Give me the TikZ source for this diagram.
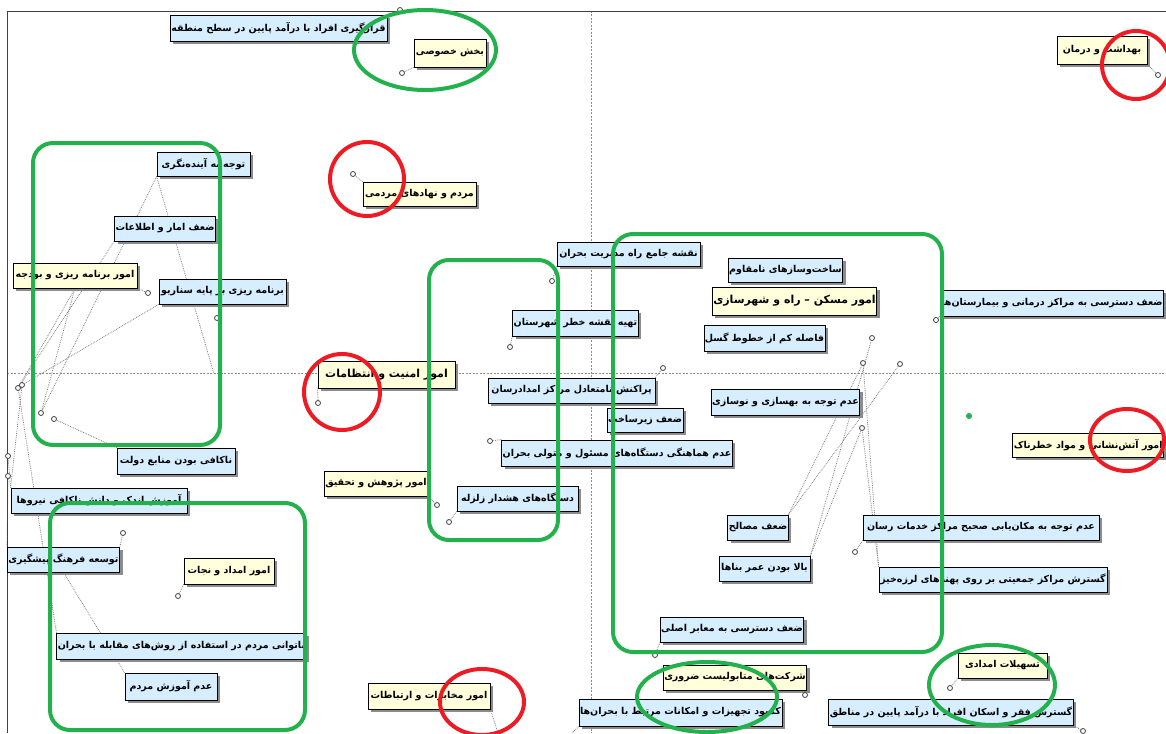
\documentclass[tikz,border=0pt]{standalone}
\usepackage{fontspec}
\newfontfamily\farsi[Script=Arabic]{DejaVu Sans}
\TeXXeTstate=1
\usetikzlibrary{shadows,backgrounds}
\newcommand{\rtltxt}[1]{\beginR#1\endR}
\definecolor{lblblue}{HTML}{D6EEFF}
\definecolor{lblyellow}{HTML}{FFFFDC}
\definecolor{hlgreen}{HTML}{22B14C}
\definecolor{hlred}{HTML}{ED1C24}
\tikzset{
  lbl/.style={draw=black, line width=0.8pt, inner sep=1pt, font=\farsi\bfseries\fontsize{9.5}{11}\selectfont,
    drop shadow={shadow xshift=3pt, shadow yshift=-3pt, fill=black!45, opacity=1}},
  boxb/.style={lbl, fill=lblblue},
  boxy/.style={lbl, fill=lblyellow},
  big/.style={font=\farsi\bfseries\fontsize{11}{12}\selectfont},
  mk/.style={circle, draw=black!75, fill=white, line width=0.8pt, inner sep=0pt, minimum size=5pt},
  link/.style={draw=black!50, densely dotted, line width=0.8pt},
  axisline/.style={draw=black!45, dashed, dash pattern=on 2pt off 1.5pt, line width=0.6pt},
  grn/.style={draw=hlgreen, line width=4pt},
  rd/.style={draw=hlred, line width=4pt}
}
\begin{document}
\begin{tikzpicture}[x=1pt, y=-1pt]
  \useasboundingbox (0,0) rectangle (1166,733);
  \draw[black!75, line width=0.9pt] (7,733) -- (7,11) -- (1166,11);

  % labels
  \node[boxb, minimum width=217, minimum height=26] (qarar) at (278.5,28) {\rtltxt{قرارگیری افراد با درآمد پایین در سطح منطقه}};
  \node[boxy, minimum width=72, minimum height=28] (bakhsh) at (450,53) {\rtltxt{بخش خصوصی}};
  \node[boxy, minimum width=90, minimum height=28] (behdasht) at (1102,50) {\rtltxt{بهداشت و درمان}};
  \node[boxb, minimum width=93, minimum height=24] (tavajoh) at (203.5,164) {\rtltxt{توجه به آینده^^^^200cنگری}};
  \node[boxb, minimum width=100, minimum height=25] (amar) at (165,228.5) {\rtltxt{ضعف امار و اطلاعات}};
  \node[boxy, minimum width=124, minimum height=25] (budje) at (75,275.5) {\rtltxt{امور برنامه ریزی و بودجه}};
  \node[boxb, minimum width=127, minimum height=25] (senario) at (222.5,291.5) {\rtltxt{برنامه ریزی بر پایه سناریو}};
  \node[boxy, minimum width=113, minimum height=24] (mardom) at (419.5,194) {\rtltxt{مردم و نهادهای مردمی}};
  \node[boxb, minimum width=143, minimum height=24] (naqshe) at (628.5,254) {\rtltxt{نقشه جامع راه مدیریت بحران}};
  \node[boxb, minimum width=115, minimum height=26] (tahiye) at (575.5,323) {\rtltxt{تهیه نقشه خطر شهرستان}};
  \node[boxb, minimum width=167, minimum height=25] (parakonesh) at (571.5,390.5) {\rtltxt{پراکنش نامتعادل مراکز امدادرسان}};
  \node[boxb, minimum width=76, minimum height=24] (zirsakht) at (645,420) {\rtltxt{ضعف زیرساخت}};
  \node[boxb, minimum width=230, minimum height=26] (hamahangi) at (617,453) {\rtltxt{عدم هماهنگی دستگاه^^^^200cهای مسئول و متولی بحران}};
  \node[boxy, big, minimum width=137, minimum height=27] (amniat) at (386.5,374.5) {\rtltxt{امور امنیت و انتظامات}};
  \node[boxy, minimum width=102, minimum height=25] (pazhuhesh) at (376,483.5) {\rtltxt{امور پژوهش و تحقیق}};
  \node[boxb, minimum width=121, minimum height=25] (hoshdar) at (517.5,498.5) {\rtltxt{دستگاه^^^^200cهای هشدار زلزله}};
  \node[boxb, minimum width=118, minimum height=26] (nakafi) at (176,461) {\rtltxt{ناکافی بودن منابع دولت}};
  \node[boxb, minimum width=176, minimum height=25] (amuzesh) at (99,500.5) {\rtltxt{آموزش اندک و دانش ناکافی نیروها}};
  \node[boxb, minimum width=111, minimum height=25] (farhang) at (63.5,559.5) {\rtltxt{توسعه فرهنگ پیشگیری}};
  \node[boxy, minimum width=90, minimum height=26] (emdad) at (229,571) {\rtltxt{امور امداد و نجات}};
  \node[boxb, minimum width=249, minimum height=26] (natavani) at (181.5,646) {\rtltxt{ناتوانی مردم در استفاده از روش^^^^200cهای مقابله با بحران}};
  \node[boxb, minimum width=92, minimum height=27] (adam) at (171,686.5) {\rtltxt{عدم آموزش مردم}};
  \node[boxb, minimum width=113, minimum height=24] (sakht) at (785.5,270) {\rtltxt{ساخت^^^^200cوسازهای نامقاوم}};
  \node[boxy, big, minimum width=153, minimum height=28] (maskan) at (794.5,301) {\rtltxt{امور مسکن – راه و شهرسازی}};
  \node[boxb, minimum width=117, minimum height=26] (gosal) at (764.5,338) {\rtltxt{فاصله کم از خطوط گسل}};
  \node[boxb, minimum width=218, minimum height=26, anchor=east] (darmani) at (1164,303) {\rtltxt{ضعف دسترسی به مراکز درمانی و بیمارستان^^^^200cها}};
  \node[boxb, minimum width=145, minimum height=26] (behsazi) at (785.5,402) {\rtltxt{عدم توجه به بهسازی و نوسازی}};
  \node[boxy, minimum width=145, minimum height=24, anchor=east] (atash) at (1164,445) {\rtltxt{امور آتش^^^^200cنشانی و مواد خطرناک}};
  \node[boxb, minimum width=60, minimum height=25] (masaleh) at (758,527.5) {\rtltxt{ضعف مصالح}};
  \node[boxb, minimum width=91, minimum height=25] (omr) at (764.5,568.5) {\rtltxt{بالا بودن عمر بناها}};
  \node[boxb, minimum width=236, minimum height=25] (makan) at (981,527.5) {\rtltxt{عدم توجه به مکان^^^^200cیابی صحیح مراکز خدمات رسان}};
  \node[boxb, minimum width=228, minimum height=25] (jamiyat) at (993,579.5) {\rtltxt{گسترش مراکز جمعیتی بر روی پهنه^^^^200cهای لرزه^^^^200cخیز}};
  \node[boxb, minimum width=140, minimum height=25] (maaber) at (732,629.5) {\rtltxt{ضعف دسترسی به معابر اصلی}};
  \node[boxy, minimum width=140, minimum height=25] (sherkat) at (735,677.5) {\rtltxt{شرکت^^^^200cهای متابولیست ضروری}};
  \node[boxb, minimum width=197, minimum height=27] (kambud) at (680.5,712.5) {\rtltxt{کمبود تجهیزات و امکانات مرتبط با بحران^^^^200cها}};
  \node[boxy, minimum width=122, minimum height=26] (mokhaberat) at (429,696) {\rtltxt{امور مخابرات و ارتباطات}};
  \node[boxy, minimum width=89, minimum height=25] (tashilat) at (1002.5,665.5) {\rtltxt{تسهیلات امدادی}};
  \node[boxb, minimum width=244, minimum height=26] (faqr) at (951,712) {\rtltxt{گسترش فقر و اسکان افراد با درآمد پایین در مناطق}};

  % markers
  \node[mk] (m1) at (400,10) {};
  \node[mk] (m2) at (402,73) {};
  \node[mk] (m3) at (1158,75) {};
  \node[mk] (m4) at (353,174) {};
  \node[mk] (m5) at (148,293) {};
  \node[mk] (m6) at (217,318) {};
  \node[mk] (m7) at (318,403) {};
  \node[mk] (m8) at (552,281) {};
  \node[mk] (m9) at (510,347) {};
  \node[mk] (m10) at (663,368) {};
  \node[mk] (m11) at (490,441) {};
  \node[mk] (m12) at (437,505) {};
  \node[mk] (m13) at (449,522) {};
  \node[mk] (m14) at (936,320) {};
  \node[mk] (m15) at (855,552) {};
  \node[mk] (m16) at (655,655) {};
  \node[mk] (m17) at (805,695) {};
  \node[mk] (m18) at (950,688) {};
  \node[mk] (m19) at (1083,731) {};
  \node[mk] (m20) at (178,596) {};
  \node[mk] (m21) at (123,533) {};
  \node[mk] (m22) at (872,338) {};
  \node[mk] (m23) at (863,363) {};
  \node[mk] (m24) at (900,364) {};
  \node[mk] (m25) at (862,428) {};
  \node[mk] (m26) at (18,388) {};
  \node[mk] (m27) at (22,385) {};
  \node[mk] (m28) at (41,413) {};
  \node[mk] (m29) at (54,419) {};
  \node[mk] (m30) at (8,456) {};
  \node[mk] (m31) at (8,476) {};
  \coordinate (c1) at (214,374);
  \coordinate (c2) at (498,733);
  \coordinate (c3) at (572,733);

  \begin{scope}[on background layer]
    \draw[axisline] (591,11) -- (591,733);
    \draw[axisline] (7,373) -- (1166,373);
    \draw[link] (qarar.north east) -- (m1);
    \draw[link] (bakhsh.south west) -- (m2);
    \draw[link] (behdasht.south east) -- (m3);
    \draw[link] (mardom.north west) -- (m4);
    \draw[link] (budje.south east) -- (m5);
    \draw[link] (senario.south) -- (m6);
    \draw[link] (amniat.south west) -- (m7);
    \draw[link] (naqshe.south west) -- (m8);
    \draw[link] (tahiye.south west) -- (m9);
    \draw[link] (parakonesh.north east) -- (m10);
    \draw[link] (hamahangi.north west) -- (m11);
    \draw[link] (pazhuhesh.south east) -- (m12);
    \draw[link] (hoshdar.south west) -- (m13);
    \draw[link] (darmani.south west) -- (m14);
    \draw[link] (makan.south west) -- (m15);
    \draw[link] (maaber.south west) -- (m16);
    \draw[link] (sherkat.south east) -- (m17);
    \draw[link] (tashilat.south west) -- (m18);
    \draw[link] (faqr.south east) -- (m19);
    \draw[link] (emdad.south west) -- (m20);
    \draw[link] (farhang.north east) -- (m21);
    \draw[link] (omr.north east) -- (m22);
    \draw[link] (omr.north east) -- (m25);
    \draw[link] (jamiyat.north west) -- (m23);
    \draw[link] (jamiyat.north west) -- (m25);
    \draw[link] (masaleh.north east) -- (m24);
    \draw[link] (masaleh.north east) -- (m23);
    \draw[link] (amar.south west) -- (m26);
    \draw[link] (senario.south west) -- (m27);
    \draw[link] (budje.south) -- (m28);
    \draw[link] (budje.south) -- (m26);
    \draw[link] (tavajoh.south west) -- (m28);
    \draw[link] (tavajoh.south west) -- (c1);
    \draw[link] (nakafi.north west) -- (m29);
    \draw[link] (amuzesh.north west) -- (m30);
    \draw[link] (amuzesh.north west) -- (m27);
    \draw[link] (farhang.north west) -- (m31);
    \draw[link] (natavani.north west) -- (m26);
    \draw[link] (farhang.south) -- (adam.north west);
    \draw[link] (mokhaberat.south east) -- (c2);
    \draw[link] (kambud.south west) -- (c3);
  \end{scope}

  % highlights
  \draw[grn, rounded corners=20] (33,143) rectangle (220,445);
  \draw[grn, rounded corners=20] (50,503) rectangle (305,730);
  \draw[grn, rounded corners=20] (429,260) rectangle (558,540);
  \draw[grn, rounded corners=20] (613,234) rectangle (942,652);
  \draw[grn] (425,50) ellipse [x radius=71, y radius=40];
  \draw[grn] (707,697) ellipse [x radius=70, y radius=35];
  \draw[grn] (992,685) ellipse [x radius=63, y radius=40];
  \fill[hlgreen] (969,416) circle (3);
  \draw[rd] (1136,65) circle (34);
  \draw[rd] (367,179) circle (37);
  \draw[rd] (342,392) circle (38);
  \draw[rd] (1127,440) ellipse [x radius=37, y radius=31];
  \draw[rd] (482,702) ellipse [x radius=42, y radius=33];
\end{tikzpicture}
\end{document}
